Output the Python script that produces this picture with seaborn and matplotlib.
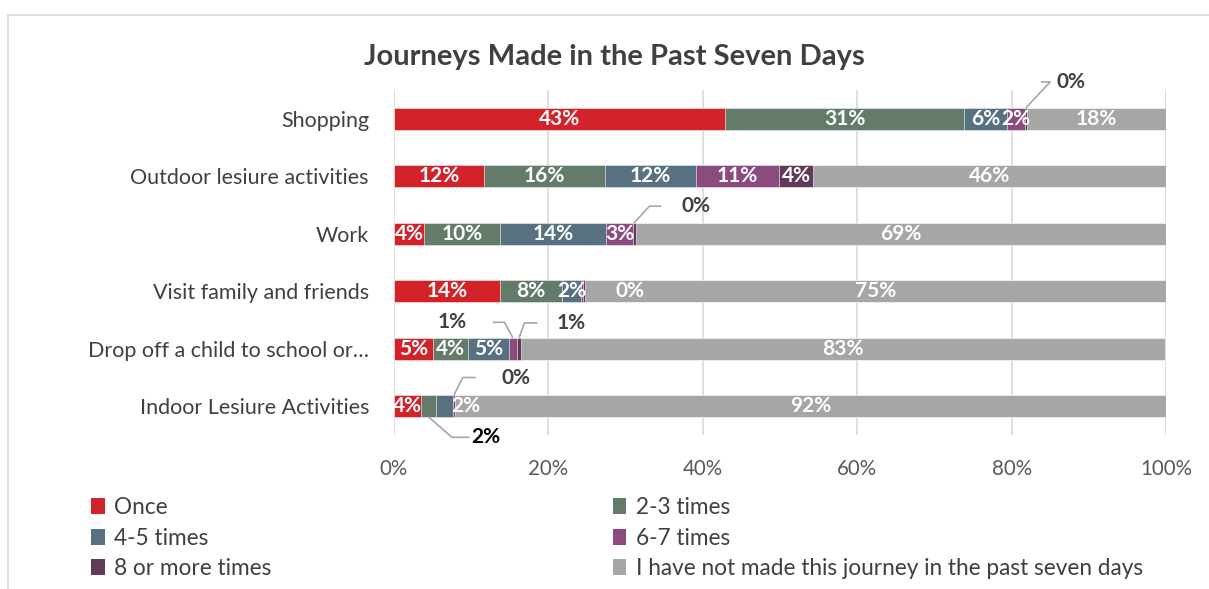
import matplotlib
matplotlib.use("Agg")
import matplotlib.pyplot as plt
import seaborn as sns
import numpy as np
import pandas as pd
from matplotlib.patches import Patch
from matplotlib.lines import Line2D

categories = ["Shopping", "Outdoor lesiure activities", "Work", "Visit family and friends",
              "Drop off a child to school or\u2026", "Indoor Lesiure Activities"]
series = ["Once", "2-3 times", "4-5 times", "6-7 times", "8 or more times",
          "I have not made this journey in the past seven days"]
once = [42.9, 11.7, 3.9, 13.7, 5.1, 3.5]
t2_3 = [30.9, 15.6, 9.8, 8.1, 4.5, 2.0]
t4_5 = [5.6, 11.8, 13.8, 2.4, 5.3, 2.1]
t6_7 = [2.3, 10.8, 3.4, 0.3, 1.0, 0.3]
t8 = [0.3, 4.4, 0.4, 0.2, 0.6, 0.0]
not_made = [18.0, 45.7, 68.7, 75.3, 83.4, 92.1]
colors = ["#D2232A", "#647B6B", "#587181", "#8C4B7E", "#613A58", "#A6A6A6"]

values = [once, t2_3, t4_5, t6_7, t8, not_made]

sns.set_theme(style="white")
plt.rcParams['font.family'] = ['Lato', 'DejaVu Sans']

fig = plt.figure(figsize=(12.09, 5.89), dpi=100)
ax = fig.add_axes([394/1209, 1-435/589, (1166-394)/1209, (435-90)/589])

cum = np.cumsum(np.array(values), axis=0)
bar_h = 0.38
for i in reversed(range(len(series))):
    df = pd.DataFrame({"cat": categories, "val": cum[i]})
    sns.barplot(data=df, x="val", y="cat", orient="h", color=colors[i], width=bar_h,
                ax=ax, saturation=1, edgecolor="white", linewidth=0.4, zorder=3)

ax.set_xlim(0, 100)
ax.set_ylim(5.5, -0.5)
ax.set_xticks(np.arange(0, 101, 20))
ax.set_xticklabels([f"{v}%" for v in range(0, 101, 20)])
ax.xaxis.grid(True, color="#D9D9D9", linewidth=1.2, zorder=0)
ax.set_axisbelow(True)
for s in ax.spines.values():
    s.set_visible(False)
ax.set_xlabel("")
ax.set_ylabel("")
ax.tick_params(axis="x", length=0, pad=17, labelsize=14.8, labelcolor="#595959")
ax.tick_params(axis="y", length=0, pad=18, labelsize=15.5, labelcolor="#404040")

# callout overrides: (cat, series) -> (text_x, text_dy, elbow_x, line_end_x, color)
callouts = {
    (0, 4): (87.7, -0.64, 85.0, 83.8, "#404040"),
    (2, 4): (39.1, -0.48, 33.1, 34.6, "#404040"),
    (4, 3): (7.5, -0.46, 14.3, 12.8, "#404040"),
    (4, 4): (23.0, -0.45, 16.9, 18.6, "#404040"),
    (5, 3): (15.8, -0.50, 8.9, 10.6, "#404040"),
    (5, 1): (11.9, 0.54, 7.5, 9.8, "#000000"),
}
shifted = {(5, 2): 9.3, (3, 4): 30.6}
hidden = {(3, 3)}

for ci in range(len(categories)):
    for si in range(len(series)):
        v = values[si][ci]
        if (ci, si) in hidden:
            continue
        if ci == 5 and si == 4:
            continue
        left = cum[si][ci] - v
        xc = left + v / 2
        label = f"{v:.0f}%"
        if (ci, si) in callouts:
            tx, dy, ex, lx, col = callouts[(ci, si)]
            ty = ci + dy
            edge = ci - bar_h / 2 if dy < 0 else ci + bar_h / 2
            ax.plot([xc, ex, lx], [edge, ty, ty], color="#A6A6A6", lw=1.2,
                    zorder=5, clip_on=False, solid_capstyle="butt")
            ax.text(tx, ty, label, ha="center", va="center", fontsize=15,
                    fontweight="bold", color=col, zorder=6, clip_on=False)
        else:
            x = shifted.get((ci, si), xc)
            ax.text(x, ci, label, ha="center", va="center", fontsize=15,
                    fontweight="bold", color="white", zorder=6)

fig.text(614/1209, 1-57/589, "Journeys Made in the Past Seven Days", ha="center",
         va="center", fontsize=21, fontweight="bold", color="#404040")

order = [0, 2, 4, 1, 3, 5]
handles = [Patch(facecolor=colors[i], edgecolor="none") for i in order]
labels = [series[i] for i in order]
fig.legend(handles, labels, ncol=2, loc="upper left", bbox_to_anchor=(91/1209, 1-497/589),
           frameon=False, fontsize=16.3, labelcolor="#404040", handlelength=0.6,
           handleheight=0.7, handletextpad=0.4, columnspacing=15.1, labelspacing=0.42,
           borderaxespad=0, borderpad=0)

fig.add_artist(Line2D([8/1209, 1], [1-15/589, 1-15/589], color="#D9D9D9", lw=1.2))
fig.add_artist(Line2D([8/1209, 8/1209], [0, 1-15/589], color="#D9D9D9", lw=1.2))

fig.savefig("out.png", dpi=100)
